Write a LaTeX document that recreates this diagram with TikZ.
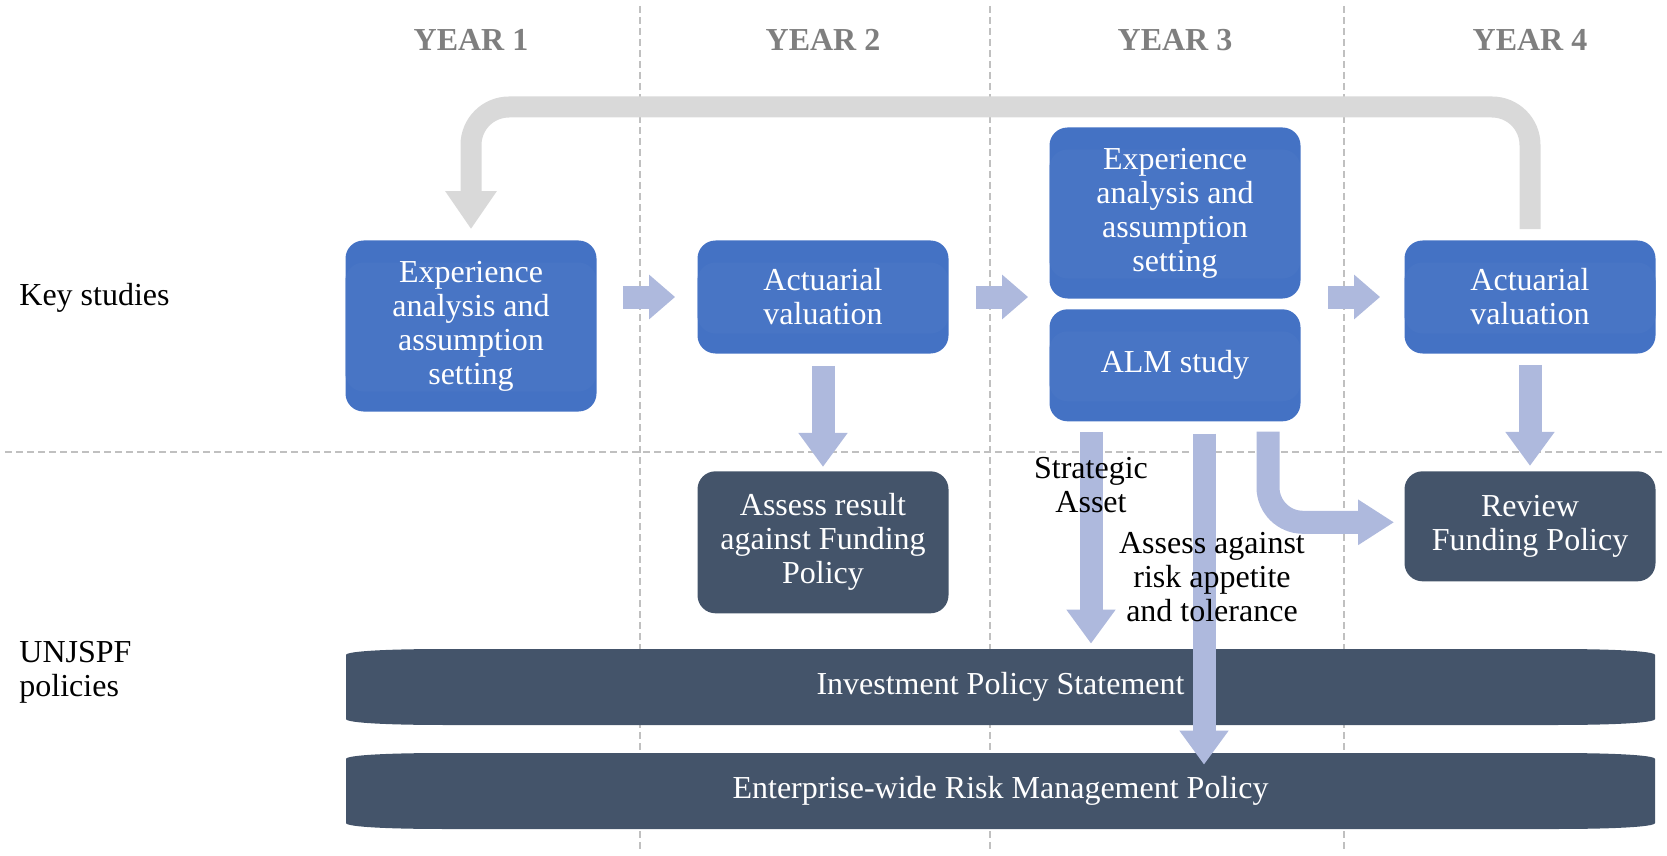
\documentclass[tikz,border=0pt]{standalone}
\usepackage{fontspec}
\setmainfont{Liberation Serif}
\usepackage{tikz}
\usetikzlibrary{arrows.meta,positioning}
\definecolor{ocean}{HTML}{4472C4}
\definecolor{slate}{HTML}{44546A}
\definecolor{haze}{HTML}{AEB9DD}
\definecolor{fog}{HTML}{D9D9D9}
\definecolor{rule}{HTML}{C0C0C0}
\definecolor{ash}{HTML}{7F7F7F}
\newcommand{\bodyfont}{\fontsize{16}{17}\selectfont}
\tikzset{
  studybox/.style={rectangle, rounded corners=9pt, fill=ocean, text=white, font=\bodyfont,
                   align=center, minimum width=125.5pt, inner sep=0pt,
    path picture={
      \fill[ocean!98!white] ([yshift=-11pt]path picture bounding box.north west)
        rectangle ([yshift=10pt]path picture bounding box.south east);
    }},
  policybox/.style={rectangle, rounded corners=9pt, fill=slate, text=white, font=\bodyfont,
                    align=center, minimum width=125.5pt, inner sep=0pt},
  policybar/.style={rectangle, minimum width=654.5pt, minimum height=38pt, inner sep=0pt,
                    text=white, font=\bodyfont,
    path picture={
      \fill[slate] ([yshift=-3pt]path picture bounding box.north west)
        .. controls +(0,2pt) and +(-28pt,0) .. ([xshift=50pt]path picture bounding box.north west)
        -- ([xshift=-50pt]path picture bounding box.north east)
        .. controls +(28pt,0) and +(0,2pt) .. ([yshift=-3pt]path picture bounding box.north east)
        -- ([yshift=3pt]path picture bounding box.south east)
        .. controls +(0,-2pt) and +(28pt,0) .. ([xshift=-50pt]path picture bounding box.south east)
        -- ([xshift=50pt]path picture bounding box.south west)
        .. controls +(-28pt,0) and +(0,-2pt) .. ([yshift=3pt]path picture bounding box.south west)
        -- cycle;
    }},
  yearlbl/.style={font=\bodyfont\bfseries, text=ash, inner sep=0pt},
  rowlbl/.style={font=\bodyfont, align=left, anchor=west, inner sep=0pt},
  lbl/.style={font=\bodyfont, align=center, inner sep=0pt},
  flow/.style={draw=haze, line width=11.5pt, -{Triangle[length=17pt, width=23.5pt]}},
  sideflow/.style={flow, -{Triangle[length=13pt, width=21.5pt]}},
  loopback/.style={draw=fog, line width=10.5pt, rounded corners=19pt,
                   -{Triangle[length=19pt, width=24.5pt]}},
  gridline/.style={draw=rule, line width=0.6pt, dash pattern=on 3.5pt off 2pt}
}

\begin{document}
\begin{tikzpicture}[x=0.5pt, y=-0.5pt]
  \useasboundingbox (0,0) rectangle (1667,856);
  \foreach \x in {640,990,1344} \draw[gridline] (\x,6) -- (\x,851);
  \draw[gridline] (5,452) -- (1662,452);

  \node[studybox, minimum height=85.5pt] (exp1) at (471,326) {Experience\\analysis and\\assumption\\setting};
  \node[studybox, minimum height=56.5pt] (act2) at (823,297) {Actuarial\\valuation};
  \node[studybox, minimum height=85.5pt] (exp3) at (1175,213) {Experience\\analysis and\\assumption\\setting};
  \node[studybox, minimum height=56pt, below=5pt of exp3] (alm3) {ALM study};
  \node[studybox, minimum height=56.5pt] (act4) at (1530,297) {Actuarial\\valuation};
  \node[policybox, minimum height=71pt, below=58.5pt of act2] (assess2) {Assess result\\against Funding\\Policy};
  \node[policybox, minimum height=55pt, below=58.5pt of act4] (review4) {Review\\Funding Policy};

  \coordinate (yearrow) at (0,40);
  \coordinate (looptop) at (0,107);
  \foreach \n/\c in {1/exp1,2/act2,3/exp3,4/act4}
    \node[yearlbl] (year\n) at (\c |- yearrow) {YEAR \n};

  \node[rowlbl] (keylbl) at (19,298) {Key studies};
  \node[rowlbl] (fundlbl) at (19,672) {UNJSPF\\policies};

  \node[policybar] (ips) at (1000.5,687) {Investment Policy Statement};
  \node[policybar] (erm) at (1000.5,791) {Enterprise-wide Risk Management Policy};

  \draw[loopback] ([yshift=5.5pt]act4.north) -- (act4.north |- looptop)
    -- (exp1.north |- looptop) -- ([yshift=5.5pt]exp1.north);

  \draw[sideflow, shorten <=13pt, shorten >=11pt] (exp1.east |- act2.west) -- (act2.west);
  \draw[sideflow, shorten <=13.5pt, shorten >=10.5pt] (act2.east) -- (exp3.west |- act2.east);
  \draw[sideflow, shorten <=13.5pt, shorten >=12pt] (exp3.east |- act4.west) -- (act4.west);
  \draw[flow, shorten <=6pt, shorten >=2pt] (act2) -- (assess2);
  \draw[flow, shorten <=5.5pt, shorten >=2.5pt] (act4) -- (review4);
  \draw[flow, shorten <=5pt, shorten >=2.5pt] ([xshift=-42pt]alm3.south) -- ([xshift=-42pt]alm3.south |- ips.north);
  \draw[flow, shorten <=6pt, shorten >=-6pt] ([xshift=14.5pt]alm3.south) -- ([xshift=14.5pt]alm3.south |- erm.north);
  \draw[flow, rounded corners=17.5pt, shorten <=5pt, shorten >=5pt,
        -{Triangle[length=18pt, width=21.5pt]}] ([xshift=46.5pt]alm3.south) |- ([yshift=2pt]review4.west);

  \node[lbl] (stratlbl) at (1091,485) {Strategic\\Asset};
  \node[lbl] (risklbl) at (1212,577) {Assess against\\risk appetite\\and tolerance};
\end{tikzpicture}
\end{document}
